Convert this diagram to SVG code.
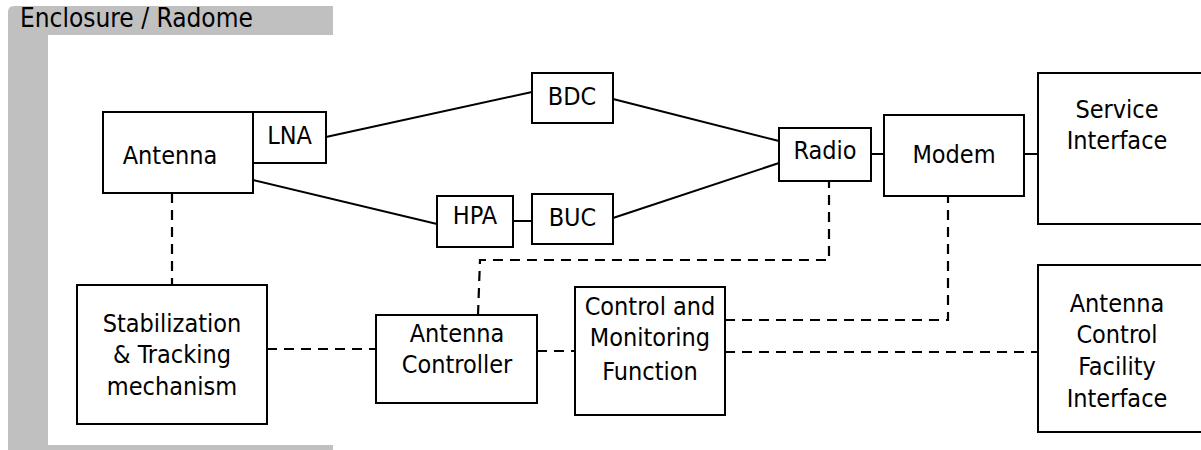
<svg xmlns="http://www.w3.org/2000/svg" width="1201" height="450" viewBox="0 0 1201 450">
<style>
.box{fill:#fff;stroke:#000;stroke-width:2}
.ln{fill:none;stroke:#000;stroke-width:2}
.dash{fill:none;stroke:#000;stroke-width:2.2;stroke-dasharray:10 7}
text{font-family:"DejaVu Sans Condensed","DejaVu Sans",sans-serif;font-stretch:condensed;font-size:25px;fill:#000;text-anchor:middle}
</style>
<rect width="1201" height="450" fill="#fff"/>
<g id="enclosure">
<path d="M8,12 Q8,6 14,6 H333 V35 H48 V445 H333 V450 H8 Z" fill="#c0c0c0"/>
<text x="20" y="27" style="text-anchor:start;font-size:26px">Enclosure / Radome</text>
</g>
<g id="connectors">
<path class="ln" d="M326,137 L532,92"/>
<path class="ln" d="M253,180 L437,224"/>
<path class="ln" d="M513,221 L532,221"/>
<path class="ln" d="M613,99 L779,141"/>
<path class="ln" d="M613,218 L779,163"/>
<path class="ln" d="M871,154 L884,154"/>
<path class="ln" d="M1024,154 L1038,154"/>
<path class="dash" d="M172,193 V285"/>
<path class="dash" d="M267,349 H376"/>
<path class="dash" d="M478,315 L480,260 H829 V181"/>
<path class="dash" d="M537,351 H575"/>
<path class="dash" d="M725,320 H948 V196"/>
<path class="dash" d="M725,352 H1038"/>
</g>
<g id="antenna"><rect class="box" x="103" y="112" width="150" height="81"/><text x="170" y="164">Antenna</text></g>
<g id="lna"><rect class="box" x="253" y="112" width="73" height="51"/><text x="289.5" y="144">LNA</text></g>
<g id="bdc"><rect class="box" x="532" y="73" width="81" height="50"/><text x="572" y="105">BDC</text></g>
<g id="hpa"><rect class="box" x="437" y="196" width="76" height="51"/><text x="475" y="224">HPA</text></g>
<g id="buc"><rect class="box" x="532" y="194" width="81" height="50"/><text x="572.5" y="226">BUC</text></g>
<g id="radio"><rect class="box" x="779" y="128" width="92" height="53"/><text x="825" y="159">Radio</text></g>
<g id="modem"><rect class="box" x="884" y="115" width="140" height="81"/><text x="954" y="163">Modem</text></g>
<g id="service"><rect class="box" x="1038" y="73" width="175" height="151"/><text x="1117" y="118">Service</text><text x="1117" y="149">Interface</text></g>
<g id="stabilization"><rect class="box" x="77" y="285" width="190" height="139"/><text x="172" y="332">Stabilization</text><text x="172" y="363">&amp; Tracking</text><text x="172" y="395">mechanism</text></g>
<g id="antenna-controller"><rect class="box" x="376" y="315" width="161" height="88"/><text x="457" y="342">Antenna</text><text x="457" y="373">Controller</text></g>
<g id="cmf"><rect class="box" x="575" y="287" width="150" height="128"/><text x="650" y="315">Control and</text><text x="650" y="346">Monitoring</text><text x="650" y="380">Function</text></g>
<g id="acfi"><rect class="box" x="1038" y="265" width="175" height="167"/><text x="1117" y="312">Antenna</text><text x="1117" y="343">Control</text><text x="1117" y="375">Facility</text><text x="1117" y="407">Interface</text></g>
</svg>
